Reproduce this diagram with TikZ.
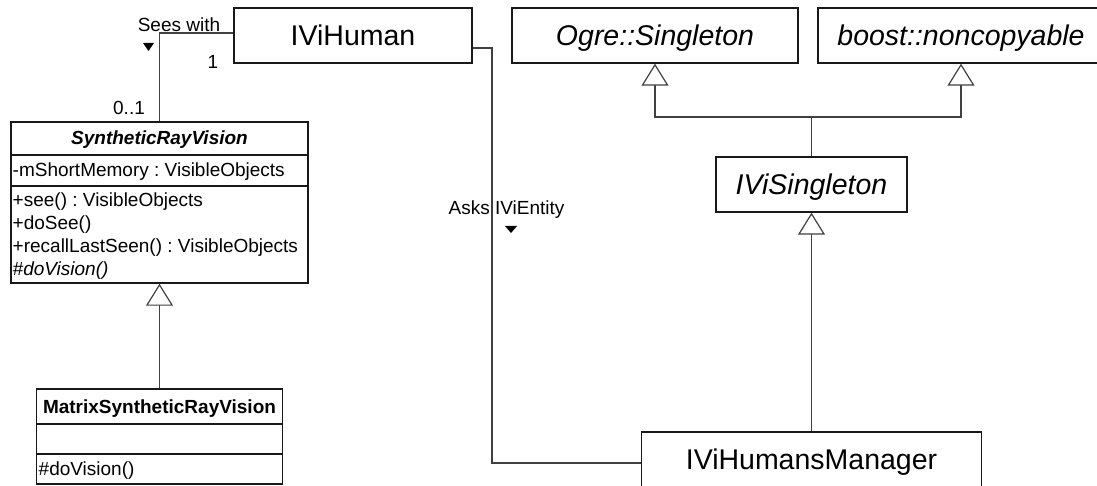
\documentclass[tikz,border=0pt]{standalone}
\usepackage{fontspec}
\setmainfont{Liberation Sans}
\usetikzlibrary{arrows.meta}
\newcommand\umlbig{\fontsize{28.5}{34}\selectfont}
\newcommand\umlsmall{\fontsize{19}{23}\selectfont}
\frenchspacing
\begin{document}
\begin{tikzpicture}[x=1pt,y=-1pt,
  classbox/.style={draw=black!90, line width=1.4pt, fill=white, inner sep=0pt,
    minimum height=55pt, text height=20.4pt, text depth=0pt, font=\umlbig},
  abstractbox/.style={classbox, font=\umlbig\itshape},
  compbox/.style={draw=black!90, line width=1.4pt, fill=white, inner sep=0pt},
  divider/.style={draw=black!90, line width=1.4pt},
  member/.style={anchor=base west, inner sep=0pt, font=\umlsmall},
  classname/.style={anchor=base, inner sep=0pt, font=\umlsmall\bfseries},
  tag/.style={anchor=base, inner sep=0pt, font=\umlsmall},
  assoc/.style={draw=black!75, line width=1.2pt},
  gen/.style={draw=black!75, line width=1.2pt,
    -{Triangle[length=22pt, width=27pt, fill=white]}},
  navmark/.style={fill=black}
]
\useasboundingbox (0,0) rectangle (1097,486);

% plain and abstract classes
\node[classbox, minimum width=238pt] (hum) at (353,35.5) {IViHuman};
\node[abstractbox, minimum width=286pt] (ogre) at (655,35.5) {Ogre::Singleton};
\node[abstractbox, minimum width=286pt] (boost) at (961,35.5) {boost::noncopyable};
\node[abstractbox, minimum width=191pt] (sing) at (811.5,184.5) {IViSingleton};
\node[classbox, minimum width=340pt] (mgr) at (811.5,459.5) {IViHumansManager};

% SyntheticRayVision with its compartments
\node[compbox, minimum width=297pt, minimum height=161pt] (srv) at (159.5,202.5) {};
\draw[divider] (srv.west |- 0,155) -- (srv.east |- 0,155);
\draw[divider] (srv.west |- 0,186) -- (srv.east |- 0,186);
\node[classname] (srvname) at (159.5,145) {\itshape SyntheticRayVision};
\node[member] (srvattr) at (12.5,177) {-mShortMemory : VisibleObjects};
\node[member] (srvop1) at (12.5,207) {+see() : VisibleObjects};
\node[member] (srvop2) at (12.5,230) {+doSee()};
\node[member] (srvop3) at (12.5,253) {+recallLastSeen() : VisibleObjects};
\node[member] (srvop4) at (12.5,276) {\itshape \#doVision()};

% MatrixSyntheticRayVision with its compartments
\node[compbox, minimum width=246pt, minimum height=95pt] (mat) at (159.5,436.5) {};
\draw[divider] (mat.west |- 0,424) -- (mat.east |- 0,424);
\draw[divider] (mat.west |- 0,454) -- (mat.east |- 0,454);
\node[classname] (matname) at (159.5,413) {MatrixSyntheticRayVision};
\node[member] (matop) at (38.5,475) {\#doVision()};

% association IViHuman -- SyntheticRayVision
\draw[assoc] ([yshift=2.5pt]hum.west) -| (srv.north);
\node[tag] (seeslbl) at (179,31.8) {Sees with};
\fill[navmark] (143,43) -- (154,43) -- (148.5,51) -- cycle;
\node[tag] (mult1) at (213,68.5) {1};
\node[tag] (mult01) at (129,115) {0..1};

% association IViHuman -- IViHumansManager
\coordinate (askA) at (492,48);
\coordinate (askB) at (492,463);
\draw[assoc] ([yshift=-12.5pt]hum.east) -- (askA) -- (askB) -- ([yshift=-3.5pt]mgr.west);
\node[tag] (askslbl) at (506.5,215) {Asks IViEntity};
\fill[navmark] (505,226) -- (517,226) -- (511,233) -- cycle;

% generalisations
\draw[gen] (mat.north) -- (srv.south);
\coordinate (bar) at (811.5,117);
\draw[gen] (sing.north) -- (bar) -| (ogre.south);
\draw[gen] (bar) -| (boost.south);
\draw[gen] (mgr.north) -- (sing.south);
\end{tikzpicture}
\end{document}
